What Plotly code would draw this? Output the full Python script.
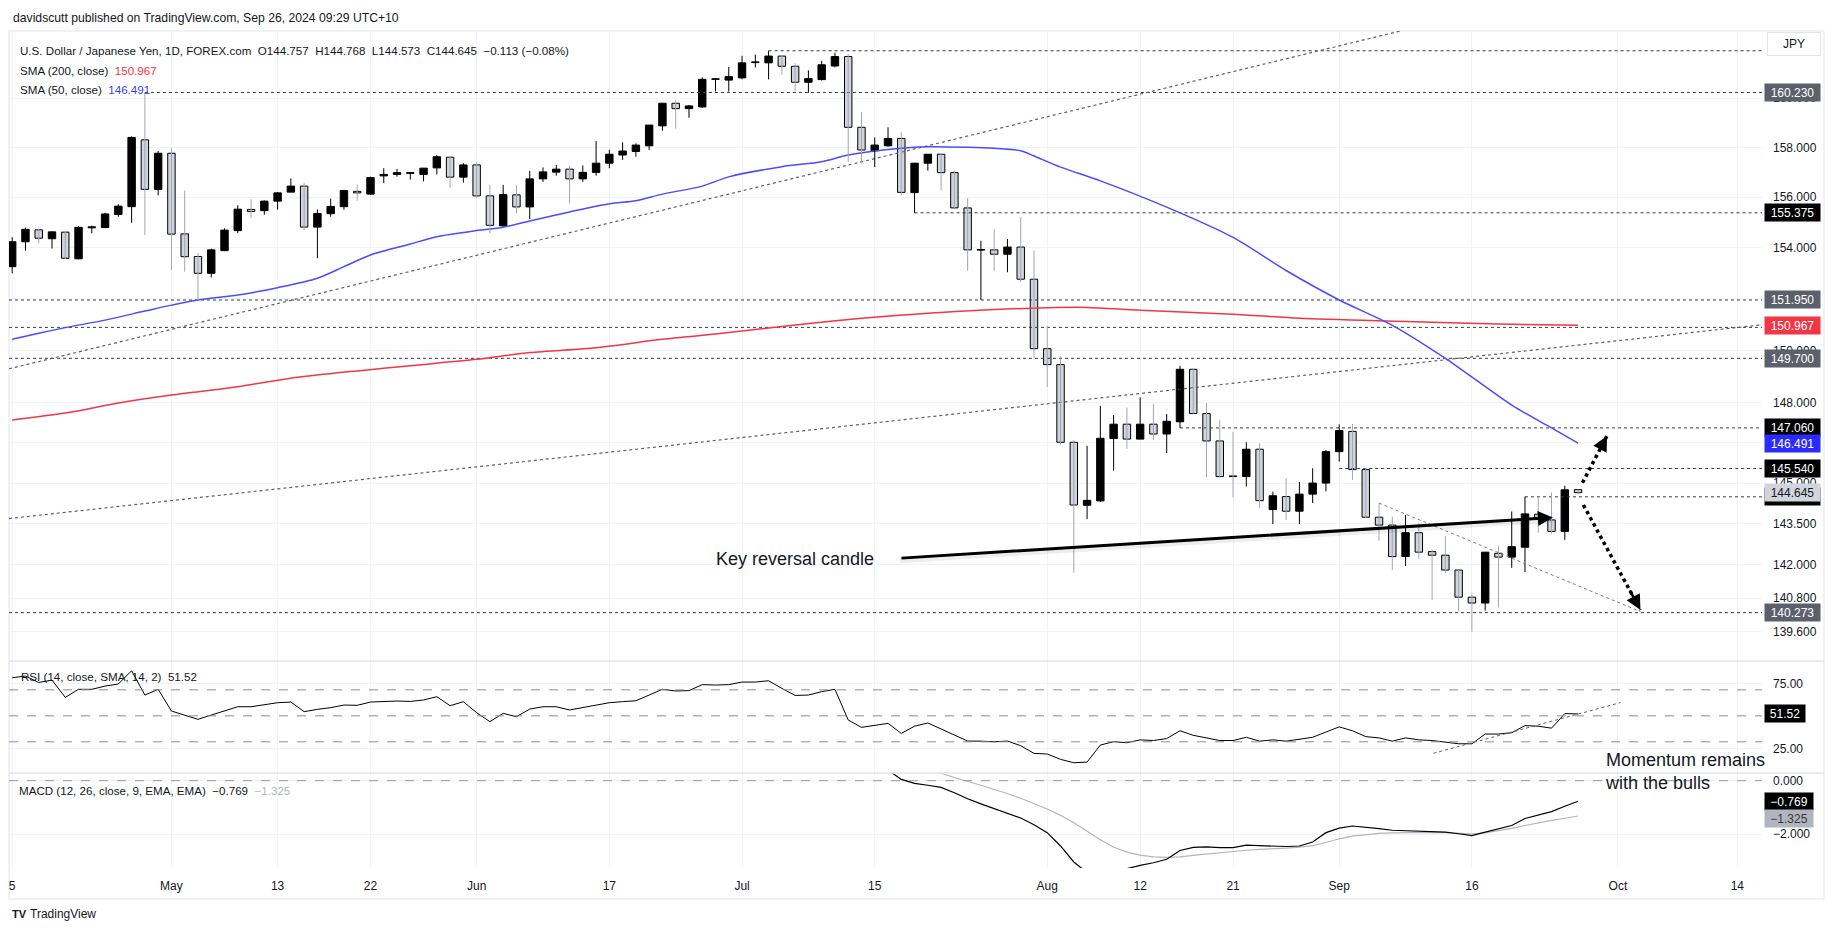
import math
import pandas as pd
import plotly.graph_objects as go
from plotly.subplots import make_subplots

# ---------------- data ----------------
dates = pd.bdate_range("2024-04-15", "2024-09-26").strftime("%Y-%m-%d").tolist()
calendar = pd.bdate_range("2024-04-15", "2024-10-31").strftime("%Y-%m-%d").tolist()

opens = [153.25, 154.23, 154.70, 154.35, 154.61, 153.56, 154.78, 154.79, 155.31, 155.62,
         158.30, 156.31, 157.76, 154.54, 153.65, 152.99, 153.88, 154.67, 155.51, 155.46,
         155.84, 156.20, 156.44, 154.81, 155.34, 155.62, 156.23, 156.12, 156.85, 156.91,
         156.95, 156.91, 157.17, 157.60, 156.80, 157.29, 156.05, 154.86, 156.09, 155.61,
         156.73, 157.00, 157.12, 156.73, 156.99, 157.36, 157.69, 157.83, 158.06, 158.87,
         159.79, 159.57, 159.64, 160.77, 160.74, 160.83, 161.46, 161.45, 161.73, 161.31,
         160.65, 160.76, 161.32, 161.71, 158.81, 157.86, 158.06, 158.36, 156.18, 157.36,
         157.72, 156.98, 155.57, 153.90, 153.91, 153.74, 154.02, 152.76, 150.07, 149.46,
         146.52, 144.18, 144.34, 146.66, 147.20, 146.64, 147.20, 146.83, 147.29, 149.28,
         147.60, 146.57, 145.26, 145.24, 146.26, 144.02, 144.50, 143.96, 144.59, 145.00,
         146.17, 146.93, 145.50, 143.74, 143.45, 142.30, 143.17, 142.48, 142.35, 141.81,
         140.83, 140.62, 142.42, 142.28, 142.64, 143.85, 143.64, 143.22, 144.757]
highs = [154.41, 154.79, 154.76, 154.64, 154.66, 154.86, 154.87, 155.38, 155.72, 158.44,
         160.23, 157.85, 157.98, 156.27, 153.79, 153.96, 154.76, 155.68, 155.91, 155.87,
         156.20, 156.75, 156.56, 155.51, 155.94, 156.29, 156.51, 156.82, 157.16, 157.12,
         157.00, 157.16, 157.69, 157.63, 157.36, 157.42, 156.49, 156.49, 156.47, 157.05,
         157.19, 157.29, 157.26, 157.27, 158.25, 157.90, 158.20, 158.16, 158.90, 159.79,
         159.92, 159.72, 160.85, 160.82, 161.28, 161.74, 161.79, 161.95, 161.77, 161.43,
         161.14, 161.53, 161.87, 161.80, 159.44, 158.40, 158.81, 158.61, 157.36, 157.72,
         157.74, 157.06, 155.96, 154.27, 154.72, 154.34, 155.20, 153.89, 150.95, 149.78,
         146.61, 146.39, 147.89, 147.55, 147.83, 148.21, 147.96, 147.58, 149.41, 149.32,
         148.00, 147.36, 146.91, 146.52, 146.48, 144.68, 145.18, 145.04, 145.55, 146.23,
         147.19, 147.21, 145.56, 144.25, 143.76, 143.82, 143.52, 142.54, 143.06, 141.81,
         140.97, 142.46, 142.70, 143.95, 144.50, 144.44, 144.65, 144.90, 144.768]
lows = [152.99, 153.88, 154.17, 153.96, 153.56, 153.54, 154.57, 154.77, 155.22, 154.98,
        154.50, 156.07, 153.12, 153.05, 151.95, 152.83, 153.86, 154.57, 155.16, 155.30,
        155.50, 156.20, 154.70, 153.58, 155.22, 155.50, 155.86, 156.09, 156.56, 156.82,
        156.70, 156.63, 156.91, 156.38, 156.58, 155.96, 154.56, 154.83, 155.35, 155.13,
        156.61, 156.86, 155.75, 156.61, 156.86, 157.16, 157.49, 157.62, 157.89, 158.67,
        158.75, 159.20, 159.60, 160.27, 160.27, 160.77, 161.26, 160.77, 160.97, 160.27,
        160.22, 160.72, 161.26, 157.42, 157.42, 157.20, 158.02, 156.07, 155.375, 157.06,
        156.27, 155.57, 153.09, 151.95, 153.09, 153.03, 152.66, 149.72, 148.61, 146.42,
        141.72, 143.67, 144.30, 145.46, 146.27, 146.64, 146.61, 146.12, 147.06, 147.60,
        145.22, 145.21, 144.47, 144.87, 144.08, 143.49, 143.64, 143.49, 144.26, 144.69,
        145.80, 145.12, 143.70, 142.87, 141.81, 141.96, 142.22, 140.73, 141.70, 140.32,
        139.59, 140.35, 140.46, 141.89, 141.74, 143.17, 143.14, 142.91, 144.573]
closes = [154.23, 154.72, 154.37, 154.62, 153.58, 154.80, 154.82, 155.33, 155.64, 158.40,
          156.31, 157.76, 154.53, 153.64, 152.99, 153.91, 154.69, 155.52, 155.43, 155.84,
          156.17, 156.44, 154.81, 155.35, 155.63, 156.26, 156.17, 156.78, 156.91, 156.98,
          156.98, 157.16, 157.62, 156.80, 157.29, 156.05, 154.88, 156.10, 155.61, 156.73,
          157.01, 157.12, 156.73, 156.99, 157.36, 157.72, 157.85, 158.09, 158.90, 159.79,
          159.57, 159.68, 160.77, 160.79, 160.88, 161.45, 161.49, 161.73, 161.31, 160.65,
          160.80, 161.37, 161.71, 158.81, 157.89, 158.09, 158.36, 156.19, 157.36, 157.72,
          156.98, 155.57, 153.91, 153.92, 153.74, 154.02, 152.76, 150.07, 149.46, 146.52,
          144.19, 144.36, 146.67, 147.20, 146.64, 147.20, 146.83, 147.31, 149.28, 147.60,
          146.57, 145.24, 145.24, 146.26, 144.35, 144.53, 143.96, 144.59, 145.00, 146.17,
          146.96, 145.50, 143.74, 143.45, 142.30, 143.17, 142.46, 142.35, 141.81, 140.83,
          140.62, 142.46, 142.28, 142.66, 143.86, 143.67, 143.22, 144.75, 144.645]

rsi = [79.3, 80.6, 75.7, 77.5, 64.2, 70.4, 70.4, 72.9, 74.5, 84.7,
       66.0, 70.4, 53.7, 50.6, 47.3, 50.6, 53.9, 57.0, 57.0, 58.8,
       60.1, 60.6, 53.2, 55.0, 56.3, 58.3, 58.1, 60.6, 61.1, 61.4,
       61.1, 62.2, 64.7, 57.8, 60.9, 52.4, 45.5, 51.9, 49.3, 55.2,
       57.0, 57.0, 54.5, 56.3, 58.1, 60.1, 60.9, 61.6, 66.0, 70.4,
       69.1, 69.4, 74.0, 73.7, 74.0, 76.0, 76.0, 77.0, 71.1, 65.7,
       66.0, 68.6, 70.4, 46.8, 41.1, 42.7, 44.2, 36.5, 42.0, 44.5,
       40.0, 35.5, 30.6, 30.5, 30.0, 30.6, 27.0, 21.1, 20.6, 16.5,
       13.9, 14.4, 27.5, 30.1, 29.3, 31.5, 31.0, 32.5, 38.5, 35.0,
       33.0, 31.0, 31.0, 33.5, 30.5, 31.5, 30.5, 32.0, 33.5, 37.5,
       41.5, 38.5, 34.0, 33.0, 30.5, 33.0, 31.5, 31.0, 30.0, 28.5,
       28.5, 36.0, 36.0, 37.0, 42.5, 42.0, 40.5, 51.7, 51.52]

sma50_dates = ["2024-04-15", "2024-04-17", "2024-04-19", "2024-04-24", "2024-04-29", "2024-05-01",
               "2024-05-03", "2024-05-08", "2024-05-13", "2024-05-16", "2024-05-20", "2024-05-22",
               "2024-05-27", "2024-05-29", "2024-06-03", "2024-06-05", "2024-06-07", "2024-06-12",
               "2024-06-17", "2024-06-19", "2024-06-21", "2024-06-26", "2024-06-28", "2024-07-04",
               "2024-07-09", "2024-07-11", "2024-07-17", "2024-07-19", "2024-07-24", "2024-07-26",
               "2024-07-30", "2024-07-31", "2024-08-02", "2024-08-07", "2024-08-14", "2024-08-21",
               "2024-08-27", "2024-09-02", "2024-09-06", "2024-09-12", "2024-09-19", "2024-09-24",
               "2024-09-26"]
sma50_vals = [150.43, 150.66, 150.88, 151.17, 151.52, 151.75, 151.95, 152.14, 152.43, 152.80,
              153.25, 153.71, 154.14, 154.43, 154.67, 154.80, 155.05, 155.41, 155.74, 155.86,
              156.12, 156.44, 156.81, 157.22, 157.42, 157.69, 157.96, 158.02, 158.00, 157.96,
              157.86, 157.65, 157.20, 156.65, 155.60, 154.40, 153.10, 151.95, 150.97, 149.70,
              147.92, 147.06, 146.491]

sma200_dates = ["2024-04-15", "2024-04-19", "2024-04-25", "2024-05-01", "2024-05-08", "2024-05-14",
                "2024-05-21", "2024-05-27", "2024-06-03", "2024-06-07", "2024-06-14", "2024-06-21",
                "2024-06-28", "2024-07-05", "2024-07-12", "2024-07-19", "2024-07-26", "2024-08-01",
                "2024-08-06", "2024-08-12", "2024-08-21", "2024-08-28", "2024-09-09", "2024-09-18",
                "2024-09-26"]
sma200_vals = [147.36, 147.62, 148.00, 148.30, 148.62, 148.94, 149.22, 149.42, 149.66, 149.92,
               150.11, 150.43, 150.69, 150.98, 151.24, 151.44, 151.58, 151.65, 151.66, 151.55,
               151.40, 151.24, 151.12, 151.02, 150.967]

macd_dates = dates[64:]
macd_vals = [1.00, 0.70, 0.40, 0.05, -0.10, -0.17, -0.25, -0.45, -0.68, -0.87,
             -1.04, -1.20, -1.40, -1.65, -1.95, -2.45, -3.05, -3.45, -3.55, -3.45,
             -3.30, -3.18, -3.08, -2.95, -2.62, -2.50, -2.48, -2.51, -2.51, -2.42,
             -2.44, -2.46, -2.47, -2.45, -2.30, -1.95, -1.78, -1.70, -1.74, -1.80,
             -1.86, -1.88, -1.89, -1.91, -1.93, -1.99, -2.06, -1.93, -1.80, -1.68,
             -1.42, -1.30, -1.16, -0.96, -0.769]
signal_dates = dates[68:]
signal_vals = [0.65, 0.45, 0.28, 0.12, -0.02, -0.17, -0.33, -0.48, -0.66, -0.86,
               -1.06, -1.30, -1.58, -1.90, -2.22, -2.50, -2.68, -2.79, -2.86, -2.88,
               -2.86, -2.80, -2.75, -2.69, -2.65, -2.61, -2.58, -2.56, -2.53, -2.49,
               -2.44, -2.32, -2.18, -2.08, -2.02, -1.98, -1.96, -1.95, -1.94, -1.94,
               -1.95, -1.96, -1.99, -1.96, -1.88, -1.79, -1.68, -1.58, -1.49, -1.41,
               -1.325]

tick_dates = ["2024-04-15", "2024-05-01", "2024-05-13", "2024-05-22", "2024-06-03", "2024-06-17",
              "2024-07-01", "2024-07-15", "2024-08-01", "2024-08-12", "2024-08-21", "2024-09-02",
              "2024-09-16", "2024-10-01", "2024-10-14"]
tick_text = ["5", "May", "13", "22", "Jun", "17", "Jul", "15", "Aug", "12", "21", "Sep", "16", "Oct", "14"]

price_ticks = [139.6, 140.8, 142.0, 143.5, 145.0, 146.5, 148.0, 150.0, 152.0, 154.0, 156.0, 158.0, 160.0]

# horizontal rays: (start date or None = from left edge, price)
ray_starts = ["2024-07-03", "2024-04-29", "2024-07-18", None, None, None, "2024-08-15", "2024-09-02",
              "2024-09-20", None]
ray_prices = [161.95, 160.23, 155.375, 151.95, 150.89, 149.70, 147.06, 145.54, 144.49, 140.273]

# price scale labels
label_texts = ["160.230", "155.375", "151.950", "150.967", "149.700", "147.060", "146.491",
               "145.540", "144.490", "144.645", "140.273"]
label_prices = [160.23, 155.375, 151.95, 150.967, 149.70, 147.06, 146.491, 145.54, 144.49, 144.645, 140.273]
label_bg = ["#5d606b", "#000000", "#5d606b", "#f23645", "#5d606b", "#000000", "#2b2bff",
            "#000000", "#000000", "#d1d4dc", "#5d606b"]
label_fg = ["#ffffff"] * 9 + ["#131722", "#ffffff"]

# drawings: anchors as (bar position, value)
diag_low = [(-0.24, 143.69), (131.86, 150.99)]
diag_high = [(-0.24, 149.30), (106.1, 162.97)]
keyrev = [(66.9, 142.24), (116.1, 143.73)]
arrow_up = [(118.33, 145.01), (120.18, 146.76)]
arrow_dn = [(118.40, 144.19), (122.70, 140.37)]
wedge = [(103.0, 144.26), (122.7, 140.31)]
rsi_trend = [(107.1, 21.2), (121.2, 60.2)]

# ---------------- layout geometry ----------------
W, H = 1835, 931
L, R, T, B = 9, 1762, 31, 868
XR = [-0.24, 131.86]
POS = {d: i for i, d in enumerate(calendar)}
xi = [POS[d] for d in dates]


def px_x(px):
    return (px - L) / (R - L)


def px_y(py):
    return (B - py) / (B - T)


def lg(v):
    return math.log10(v)


FONT = "Liberation Sans"
DARK = "#131722"

fig = make_subplots(rows=3, cols=1, shared_xaxes=True, vertical_spacing=0,
                    row_heights=[630, 112, 95])

# rays
for s, p in zip(ray_starts, ray_prices):
    x0 = XR[0] if s is None else POS[s]
    fig.add_trace(go.Scatter(x=[x0, XR[1]], y=[p, p], mode="lines",
                             line=dict(color="#363a45", width=1, dash="dot"),
                             hoverinfo="skip", showlegend=False), row=1, col=1)

# diagonal trend lines
for seg in (diag_low, diag_high):
    fig.add_trace(go.Scatter(x=[a for a, b in seg], y=[b for a, b in seg], mode="lines",
                             line=dict(color="#5d606b", width=1.2, dash="dot"),
                             hoverinfo="skip", showlegend=False), row=1, col=1)

# SMAs
fig.add_trace(go.Scatter(x=[POS[d] for d in sma200_dates], y=sma200_vals, mode="lines",
                         line=dict(color="#f23645", width=1.5, shape="spline", smoothing=0.8),
                         hoverinfo="skip", showlegend=False), row=1, col=1)
fig.add_trace(go.Scatter(x=[POS[d] for d in sma50_dates], y=sma50_vals, mode="lines",
                         line=dict(color="#4b4bff", width=1.5, shape="spline", smoothing=0.8),
                         hoverinfo="skip", showlegend=False), row=1, col=1)

# wicks
up_wx, up_wy, dn_wx, dn_wy = [], [], [], []
for x, o, h, l, c in zip(xi, opens, highs, lows, closes):
    if c >= o:
        up_wx += [x, x, None]; up_wy += [l, h, None]
    else:
        dn_wx += [x, x, None]; dn_wy += [l, h, None]
fig.add_trace(go.Scatter(x=dn_wx, y=dn_wy, mode="lines", line=dict(color="#a3a6af", width=1),
                         hoverinfo="skip", showlegend=False), row=1, col=1)
fig.add_trace(go.Scatter(x=up_wx, y=up_wy, mode="lines", line=dict(color="#000000", width=1),
                         hoverinfo="skip", showlegend=False), row=1, col=1)

# bodies
ux, ub, uh, dx, db, dh = [], [], [], [], [], []
for x, o, c in zip(xi, opens, closes):
    lo = min(o, c)
    hgt = max(abs(c - o), 0.025)
    if c >= o:
        ux.append(x); ub.append(lo); uh.append(hgt)
    else:
        dx.append(x); db.append(lo); dh.append(hgt)
fig.add_trace(go.Bar(x=dx, y=dh, base=db, width=0.56,
                     marker=dict(color="#d1d4dc", line=dict(color="#000000", width=1)),
                     hoverinfo="skip", showlegend=False), row=1, col=1)
fig.add_trace(go.Bar(x=ux, y=uh, base=ub, width=0.56,
                     marker=dict(color="#000000", line=dict(color="#000000", width=1)),
                     hoverinfo="skip", showlegend=False), row=1, col=1)

# wedge line
fig.add_trace(go.Scatter(x=[a for a, b in wedge], y=[b for a, b in wedge], mode="lines",
                         line=dict(color="#787b86", width=1, dash="dot"),
                         hoverinfo="skip", showlegend=False), row=1, col=1)

# key reversal soft shadow
fig.add_trace(go.Scatter(x=[a for a, b in keyrev], y=[b * math.exp(-2 / 3911) for a, b in keyrev],
                         mode="lines", line=dict(color="rgba(0,0,0,0.07)", width=6),
                         hoverinfo="skip", showlegend=False), row=1, col=1)

# dotted arrow shafts
for seg in (arrow_up, arrow_dn):
    fig.add_trace(go.Scatter(x=[a for a, b in seg], y=[b for a, b in seg], mode="lines",
                             line=dict(color="#000000", width=3.5, dash="dot"),
                             hoverinfo="skip", showlegend=False), row=1, col=1)

# RSI
fig.add_trace(go.Scatter(x=xi, y=rsi, mode="lines", line=dict(color="#000000", width=1),
                         hoverinfo="skip", showlegend=False), row=2, col=1)
fig.add_trace(go.Scatter(x=[a for a, b in rsi_trend], y=[b for a, b in rsi_trend], mode="lines",
                         line=dict(color="#5d606b", width=1, dash="dot"),
                         hoverinfo="skip", showlegend=False), row=2, col=1)

# MACD
fig.add_trace(go.Scatter(x=[POS[d] for d in signal_dates], y=signal_vals, mode="lines",
                         line=dict(color="#b2b5be", width=1.2), hoverinfo="skip", showlegend=False),
              row=3, col=1)
fig.add_trace(go.Scatter(x=[POS[d] for d in macd_dates], y=macd_vals, mode="lines",
                         line=dict(color="#000000", width=1.2), hoverinfo="skip", showlegend=False),
              row=3, col=1)

# dashed reference lines
for v in (70, 50, 30):
    fig.add_trace(go.Scatter(x=XR, y=[v, v], mode="lines", line=dict(color="#8a8d96", width=1, dash="dash"),
                             hoverinfo="skip", showlegend=False), row=2, col=1)
fig.add_trace(go.Scatter(x=XR, y=[0, 0], mode="lines", line=dict(color="#9598a1", width=1, dash="dash"),
                         hoverinfo="skip", showlegend=False), row=3, col=1)

# ---------------- axes ----------------
tick_pos = [POS[d] for d in tick_dates]
for r in (1, 2, 3):
    fig.update_xaxes(row=r, col=1, range=XR, tickvals=tick_pos, ticktext=tick_text,
                     showgrid=True, gridcolor="#f0f3fa", gridwidth=1, zeroline=False,
                     showline=False, ticks="", showticklabels=(r == 3),
                     tickfont=dict(family=FONT, size=12, color=DARK), ticklabelstandoff=9)

fig.update_yaxes(row=1, col=1, type="log", range=[lg(138.55), lg(162.77)], side="right",
                 tickvals=price_ticks, ticktext=[f"{v:.3f}" for v in price_ticks],
                 showgrid=True, gridcolor="#f0f3fa", zeroline=False, showline=False, ticks="",
                 tickfont=dict(family=FONT, size=12, color=DARK), ticklabelstandoff=10)
fig.update_yaxes(row=2, col=1, range=[6.0, 92.2], side="right", tickvals=[25, 75],
                 ticktext=["25.00", "75.00"], showgrid=True, gridcolor="#f0f3fa", zeroline=False,
                 showline=False, ticks="", tickfont=dict(family=FONT, size=12, color=DARK),
                 ticklabelstandoff=10)
fig.update_yaxes(row=3, col=1, range=[-3.276, 0.289], side="right", tickvals=[-2, 0],
                 ticktext=["\u22122.000", "0.000"], showgrid=True, gridcolor="#f0f3fa", zeroline=False,
                 showline=False, ticks="", tickfont=dict(family=FONT, size=12, color=DARK),
                 ticklabelstandoff=10)

# ---------------- annotations ----------------
ann = []


def text_at(px, py, txt, size=12, color=DARK, anchor="left"):
    ann.append(dict(xref="paper", yref="paper", x=px_x(px), y=px_y(py), xanchor=anchor,
                    yanchor="middle", text=txt, showarrow=False,
                    font=dict(family=FONT, size=size, color=color)))


text_at(11, 18, "davidscutt published on TradingView.com, Sep 26, 2024 09:29 UTC+10", size=12.2)
text_at(18, 50, "U.S. Dollar / Japanese Yen, 1D, FOREX.com&nbsp;&nbsp;O144.757&nbsp;&nbsp;H144.768&nbsp;&nbsp;"
                "L144.573&nbsp;&nbsp;C144.645&nbsp;&nbsp;\u22120.113 (\u22120.08%)", size=11.6)
text_at(18, 70, "SMA (200, close)&nbsp;&nbsp;<span style='color:#f23645'>150.967</span>", size=11.6)
text_at(18, 89, "SMA (50, close)&nbsp;&nbsp;<span style='color:#3b3bff'>146.491</span>", size=11.6)
text_at(19, 676, "RSI (14, close, SMA, 14, 2)&nbsp;&nbsp;51.52", size=11.6)
text_at(17, 790, "MACD (12, 26, close, 9, EMA, EMA)&nbsp;&nbsp;\u22120.769&nbsp;&nbsp;"
                 "<span style='color:#b2b5be'>\u22121.325</span>", size=11.6)
text_at(714, 559, "Key reversal candle", size=18, color="#131722")
ann.append(dict(xref="paper", yref="paper", x=px_x(1603), y=px_y(771), xanchor="left", yanchor="middle",
                text="Momentum remains<br>with the bulls", showarrow=False, align="left",
                font=dict(family=FONT, size=18, color="#131722")))
text_at(28, 914, "TradingView", size=12, color="#131722")
text_at(10, 914, "<b>TV</b>", size=11, color="#131722")

# JPY box
ann.append(dict(xref="paper", yref="paper", x=px_x(1794), y=px_y(44), xanchor="center", yanchor="middle",
                text="JPY", showarrow=False, width=50, height=20, bordercolor="#e0e3eb", borderwidth=1,
                borderpad=1, font=dict(family=FONT, size=12, color=DARK), bgcolor="#ffffff"))

# price scale labels
for t, p, bg, fg in zip(label_texts, label_prices, label_bg, label_fg):
    ann.append(dict(xref="paper", yref="y", x=1, y=lg(p), xanchor="left", yanchor="middle", xshift=2,
                    text=t, showarrow=False, bgcolor=bg, width=53, height=15, borderpad=1,
                    font=dict(family=FONT, size=12, color=fg)))
ann.append(dict(xref="paper", yref="y2", x=1, y=51.52, xanchor="left", yanchor="middle", xshift=2,
                text="51.52", showarrow=False, bgcolor="#000000", width=38, height=15, borderpad=1,
                font=dict(family=FONT, size=12, color="#ffffff")))
ann.append(dict(xref="paper", yref="y3", x=1, y=-0.769, xanchor="left", yanchor="middle", xshift=2,
                text="\u22120.769", showarrow=False, bgcolor="#000000", width=46, height=15, borderpad=1,
                font=dict(family=FONT, size=12, color="#ffffff")))
ann.append(dict(xref="paper", yref="y3", x=1, y=-1.325, xanchor="left", yanchor="middle", xshift=2,
                yshift=-2, text="\u22121.325", showarrow=False, bgcolor="#b2b5be", width=46, height=15,
                borderpad=1, font=dict(family=FONT, size=12, color="#363a45")))

# key reversal arrow
(kx0, ky0), (kx1, ky1) = keyrev
ann.append(dict(xref="x", yref="y", axref="x", ayref="y", x=kx1, y=lg(ky1), ax=kx0, ay=lg(ky0),
                text="", showarrow=True, arrowhead=2, arrowsize=1, arrowwidth=3, arrowcolor="#000000"))
# dotted arrow heads
for (sx, sy), (tx, ty) in (arrow_up, arrow_dn):
    f = 0.2
    ann.append(dict(xref="x", yref="y", axref="x", ayref="y", x=tx, y=lg(ty),
                    ax=tx - f * (tx - sx), ay=lg(ty) - f * (lg(ty) - lg(sy)),
                    text="", showarrow=True, arrowhead=2, arrowsize=1.2, arrowwidth=2.5,
                    arrowcolor="#000000"))

# frame / separators
shapes = []
FR = px_x(1824)
shapes.append(dict(type="rect", xref="paper", yref="paper", x0=0, x1=FR, y0=px_y(899), y1=px_y(31),
                   line=dict(color="#e0e3eb", width=1), fillcolor="rgba(0,0,0,0)", layer="below"))
for py in (661, 773):
    shapes.append(dict(type="line", xref="paper", yref="paper", x0=0, x1=FR, y0=px_y(py), y1=px_y(py),
                       line=dict(color="#e0e3eb", width=1.5)))

fig.update_layout(width=W, height=H, margin=dict(l=L, r=W - R, t=T, b=H - B),
                  paper_bgcolor="#ffffff", plot_bgcolor="#ffffff", barmode="overlay",
                  showlegend=False, annotations=ann, shapes=shapes,
                  font=dict(family=FONT, size=12, color=DARK), hovermode=False)

fig.write_html("out.html")
